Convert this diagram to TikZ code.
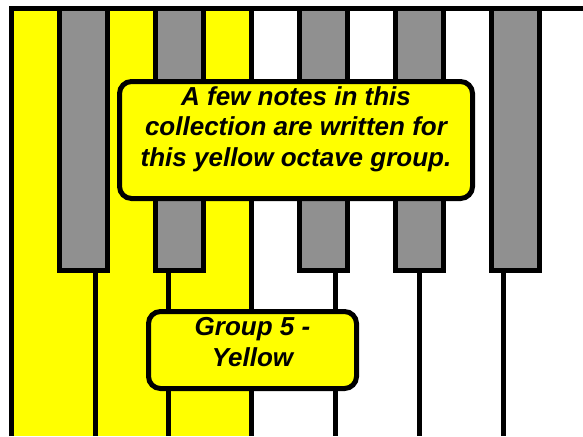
\documentclass[tikz,border=0pt]{standalone}
\usepackage{fontspec}
\newfontfamily\notefont{Liberation Sans}
\definecolor{keygray}{RGB}{144,144,144}
\definecolor{octyellow}{RGB}{255,255,0}
\begin{document}
\begin{tikzpicture}[x=1pt,y=-1pt,line width=5pt,
	notebox/.style={draw,fill=octyellow,rounded corners=12pt,align=center,inner sep=0pt,font=\notefont\bfseries\itshape\fontsize{26}{30.5}\selectfont}]
	\clip (0,0) rectangle (583,436);
	\def\keytop{8.5}
	\def\keybot{270.5}
	% yellow octave
	\fill[octyellow] (11.5,\keytop) rectangle (251.5,436);
	\foreach \x in {95.5,168,335.5,419.5,503.5}
		\draw (\x,\keybot) -- (\x,436);
	\draw (251.5,\keytop) -- (251.5,436);
	\draw (11.5,436) -- (11.5,\keytop) -- (583,\keytop);
	% black keys
	\foreach \x in {59.5,155.5,299.5,395.5,491.5}
		\draw[fill=keygray] (\x,\keytop) rectangle (\x+48,\keybot);
	\node[notebox,minimum width=353pt,minimum height=117pt,text depth=27pt] (few) at (296,140) {A few notes in this\\collection are written for\\this yellow octave group.};
	\node[notebox,minimum width=208pt,minimum height=77pt,text depth=16pt] (group) at (252.5,350) {Group 5 -\\Yellow};
\end{tikzpicture}
\end{document}
